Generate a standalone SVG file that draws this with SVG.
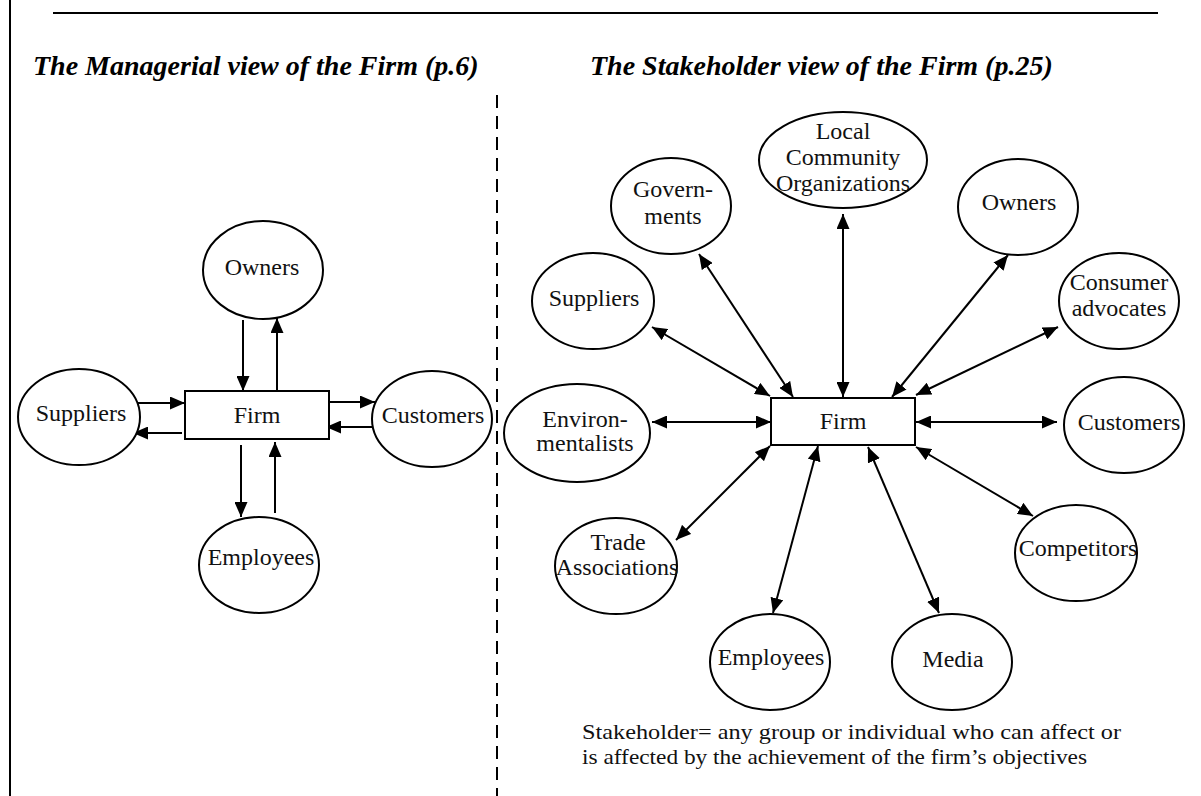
<svg xmlns="http://www.w3.org/2000/svg" width="1201" height="796" viewBox="0 0 1201 796">
<style>
.bg{fill:#fff}
.frame{stroke:#000;stroke-width:2;fill:none}
.dash{stroke:#000;stroke-width:2;stroke-dasharray:13 8;fill:none}
.title{font-family:"Liberation Serif",serif;font-size:28px;font-weight:bold;font-style:italic;fill:#000}
.node ellipse,.node rect{fill:#fff;stroke:#000;stroke-width:2}
.lbl{font-family:"Liberation Serif",serif;font-size:24px;fill:#111;text-anchor:middle}
.note{font-family:"Liberation Serif",serif;font-size:22px;fill:#111}
.one{stroke:#000;stroke-width:2;fill:none;marker-end:url(#ah)}
.two{stroke:#000;stroke-width:2;fill:none;marker-end:url(#ah);marker-start:url(#ah)}
</style>
<defs>
<marker id="ah" viewBox="0 0 15 13" refX="15" refY="6.5" markerWidth="15" markerHeight="13" markerUnits="userSpaceOnUse" orient="auto-start-reverse">
<path d="M0,0 L15,6.5 L0,13 z" fill="#000"/>
</marker>
</defs>
<rect class="bg" x="0" y="0" width="1201" height="796"/>
<line class="frame" x1="10" y1="0" x2="10" y2="796"/>
<line class="frame" x1="53" y1="13" x2="1158" y2="13"/>
<line class="dash" x1="497" y1="95" x2="497" y2="796"/>
<text class="title" x="33" y="75">The Managerial view of the Firm (p.6)</text>
<text class="title" x="590" y="75">The Stakeholder view of the Firm (p.25)</text>

<g id="connectors">
<line class="one" x1="243" y1="320" x2="243" y2="391"/>
<line class="one" x1="277" y1="391" x2="277" y2="318"/>
<line class="one" x1="137" y1="403" x2="185" y2="403"/>
<line class="one" x1="182" y1="433" x2="133" y2="433"/>
<line class="one" x1="329" y1="402" x2="375" y2="402"/>
<line class="one" x1="372" y1="427" x2="326" y2="427"/>
<line class="one" x1="241" y1="445" x2="241" y2="517"/>
<line class="one" x1="275" y1="513" x2="275" y2="442"/>

<line class="two" x1="843" y1="214" x2="843" y2="397"/>
<line class="two" x1="699" y1="254" x2="793" y2="397"/>
<line class="two" x1="652" y1="327" x2="770" y2="396"/>
<line class="two" x1="1008" y1="255" x2="892" y2="397"/>
<line class="two" x1="1058" y1="327" x2="916" y2="395"/>
<line class="two" x1="652" y1="422" x2="771" y2="422"/>
<line class="two" x1="916" y1="422" x2="1057" y2="422"/>
<line class="two" x1="676" y1="540" x2="770" y2="446"/>
<line class="two" x1="916" y1="447" x2="1033" y2="516"/>
<line class="two" x1="818" y1="446" x2="773" y2="613"/>
<line class="two" x1="868" y1="447" x2="939" y2="613"/>
</g>

<g id="m-owners" class="node"><ellipse cx="263" cy="270" rx="60" ry="49"/><text class="lbl" x="262" y="275">Owners</text></g>
<g id="m-suppliers" class="node"><ellipse cx="79" cy="417" rx="61" ry="48"/><text class="lbl" x="81" y="421">Suppliers</text></g>
<g id="m-firm" class="node"><rect x="185" y="391" width="144" height="48"/><text class="lbl" x="257" y="423">Firm</text></g>
<g id="m-customers" class="node"><ellipse cx="432" cy="419" rx="60" ry="48"/><text class="lbl" x="433" y="423">Customers</text></g>
<g id="m-employees" class="node"><ellipse cx="259" cy="565" rx="60" ry="48"/><text class="lbl" x="261" y="565">Employees</text></g>

<g id="s-local" class="node"><ellipse cx="843" cy="160" rx="84" ry="48"/><text class="lbl" x="843" y="139">Local</text><text class="lbl" x="843" y="165">Community</text><text class="lbl" x="843" y="191">Organizations</text></g>
<g id="s-governments" class="node"><ellipse cx="671" cy="206" rx="60" ry="48"/><text class="lbl" x="673" y="197">Govern-</text><text class="lbl" x="673" y="224">ments</text></g>
<g id="s-owners" class="node"><ellipse cx="1018" cy="207" rx="60" ry="48"/><text class="lbl" x="1019" y="210">Owners</text></g>
<g id="s-suppliers" class="node"><ellipse cx="593" cy="301" rx="61" ry="48"/><text class="lbl" x="594" y="306">Suppliers</text></g>
<g id="s-consumer" class="node"><ellipse cx="1119" cy="301" rx="60" ry="48"/><text class="lbl" x="1119" y="290">Consumer</text><text class="lbl" x="1119" y="316">advocates</text></g>
<g id="s-environ" class="node"><ellipse cx="577" cy="433" rx="73" ry="49"/><text class="lbl" x="585" y="427">Environ-</text><text class="lbl" x="585" y="451">mentalists</text></g>
<g id="s-firm" class="node"><rect x="771" y="398" width="144" height="47"/><text class="lbl" x="843" y="429">Firm</text></g>
<g id="s-customers" class="node"><ellipse cx="1124" cy="425" rx="60" ry="48"/><text class="lbl" x="1129" y="430">Customers</text></g>
<g id="s-trade" class="node"><ellipse cx="616" cy="566" rx="61" ry="48"/><text class="lbl" x="618" y="550">Trade</text><text class="lbl" x="617" y="575">Associations</text></g>
<g id="s-competitors" class="node"><ellipse cx="1076" cy="553" rx="61" ry="48"/><text class="lbl" x="1078" y="556">Competitors</text></g>
<g id="s-employees" class="node"><ellipse cx="770" cy="662" rx="60" ry="48"/><text class="lbl" x="771" y="665">Employees</text></g>
<g id="s-media" class="node"><ellipse cx="952" cy="662" rx="60" ry="48"/><text class="lbl" x="953" y="667">Media</text></g>

<text class="note" x="582" y="739" textLength="539" lengthAdjust="spacingAndGlyphs">Stakeholder= any group or individual who can affect or</text>
<text class="note" x="582" y="764" textLength="505" lengthAdjust="spacingAndGlyphs">is affected by the achievement of the firm’s objectives</text>
</svg>
